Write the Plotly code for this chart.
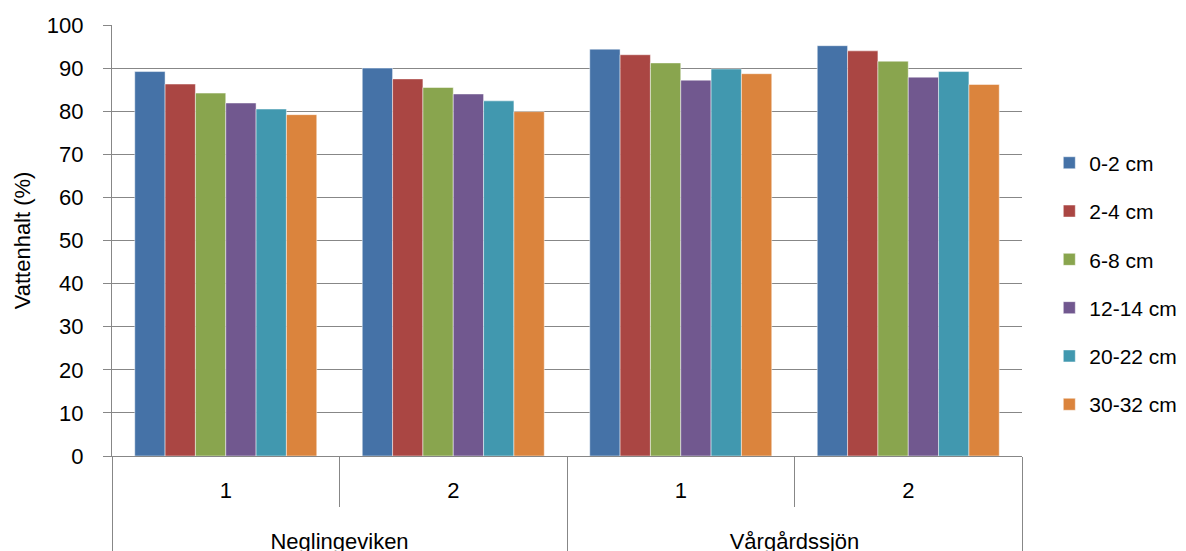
import plotly.graph_objects as go

S = "<span style='font-size:22px'>{}</span>"
lake_names = ["Neglingeviken", "Neglingeviken", "Vårgårdssjön", "Vårgårdssjön"]
station_names = ["1", "2", "1", "2"]
depths = ["0-2 cm", "2-4 cm", "6-8 cm", "12-14 cm", "20-22 cm", "30-32 cm"]
vals_0_2 = [89.2, 90.0, 94.4, 95.2]
vals_2_4 = [86.3, 87.5, 93.1, 94.0]
vals_6_8 = [84.2, 85.5, 91.2, 91.6]
vals_12_14 = [81.9, 84.0, 87.2, 87.9]
vals_20_22 = [80.5, 82.4, 89.8, 89.2]
vals_30_32 = [79.2, 79.9, 88.7, 86.2]
series = [vals_0_2, vals_2_4, vals_6_8, vals_12_14, vals_20_22, vals_30_32]
colors = ["#4572A7", "#AA4643", "#89A54E", "#71588F", "#4198AF", "#DB843D"]
yticks = [0, 10, 20, 30, 40, 50, 60, 70, 80, 90, 100]

lakes = ["<br>" + S.format(n) + "<br> " for n in lake_names]
stations = [S.format(s) for s in station_names]

FONT = "Liberation Sans"
GRID = "#878787"
fig = go.Figure()
for name, v, c in zip(depths, series, colors):
    fig.add_trace(go.Bar(
        x=[lakes, stations], y=v, name=name, legendgroup=name,
        marker=dict(color=c, line=dict(color="rgba(255,255,255,0.6)", width=0.8)),
    ))

# page body has an 8px margin, so the figure is 8px smaller and margins shifted
fig.update_layout(
    width=1178, height=543,
    margin=dict(l=104, r=164, t=17, b=95, autoexpand=False),
    paper_bgcolor="white", plot_bgcolor="white",
    barmode="group", bargap=0.2, bargroupgap=0,
    font=dict(family=FONT, size=22, color="black"),
    showlegend=True,
    legend=dict(x=1.03, y=0.4, xanchor="left", yanchor="middle",
                traceorder="grouped", tracegroupgap=18,
                font=dict(family=FONT, size=21), itemwidth=30),
    annotations=[dict(text="Vattenhalt (%)", textangle=-90, showarrow=False,
                      xref="paper", yref="paper", x=-0.098, y=0.5,
                      xanchor="center", yanchor="middle",
                      font=dict(family=FONT, size=22))],
)
fig.update_yaxes(
    range=[0, 100], tickvals=yticks, showgrid=True, gridcolor=GRID, gridwidth=1.3,
    showline=True, linecolor=GRID, linewidth=1.3,
    ticks="outside", ticklen=8, tickcolor=GRID, tickwidth=1.3,
    ticklabelstandoff=15,
    tickfont=dict(family=FONT, size=22),
    zeroline=False, automargin=False,
)
fig.update_xaxes(
    showline=True, linecolor=GRID, linewidth=1.3,
    tickson="boundaries", ticks="outside", ticklen=50, tickcolor=GRID, tickwidth=1.3,
    ticklabelstandoff=10,
    showdividers=True, dividercolor=GRID, dividerwidth=1.3,
    tickfont=dict(family=FONT, size=26), automargin=False,
)
fig.write_html("out.html")
